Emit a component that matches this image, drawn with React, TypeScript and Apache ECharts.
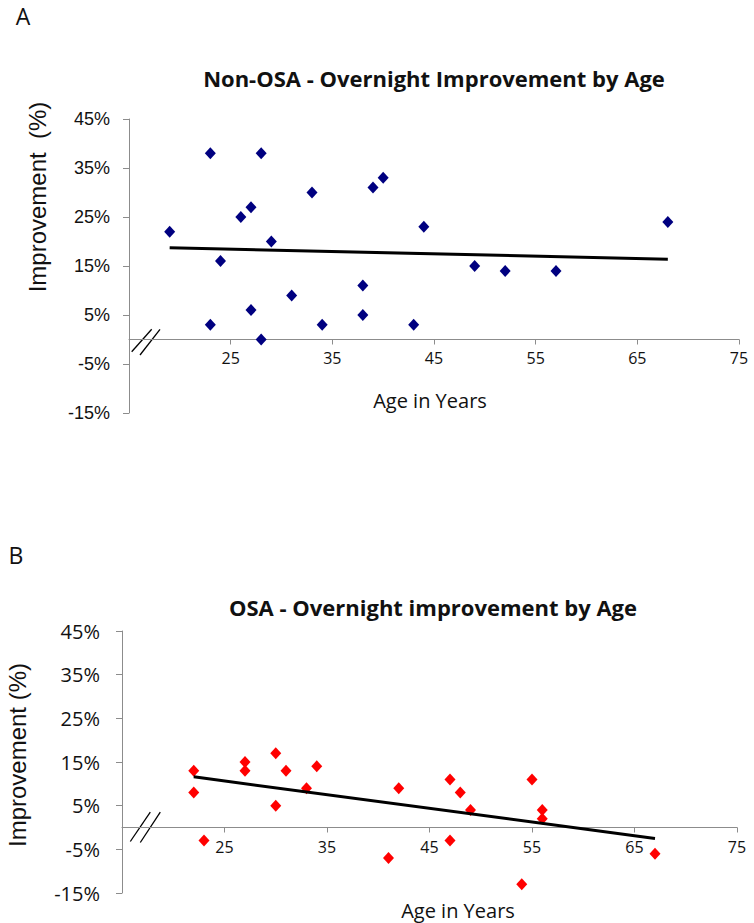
import React, { useEffect, useRef } from "react";
import * as echarts from "echarts";

// Panel A: Non-OSA
const topAge = [19, 23, 28, 24, 26, 27, 29, 33, 39, 40, 44, 68, 49, 52, 57, 23, 27, 28, 31, 34, 38, 38, 43];
const topImp = [22, 38, 38, 16, 25, 27, 20, 30, 31, 33, 23, 24, 15, 14, 14, 3, 6, 0, 9, 3, 11, 5, 3];
const topTrendAge = [19, 68];
const topTrendImp = [18.7, 16.4];

// Panel B: OSA
const botAge = [22, 22, 23, 27, 27, 30, 30, 31, 33, 34, 42, 41, 47, 47, 48, 49, 55, 56, 56, 54, 67];
const botImp = [13, 8, -3, 15, 13, 17, 5, 13, 9, 14, 9, -7, 11, -3, 8, 4, 11, 4, 2, -13, -6];
const botTrendAge = [22, 67];
const botTrendImp = [11.6, -2.5];

const xMin = 15;
const xMax = 75;
const xStep = 10;
const yMin = -15;
const yMax = 45;
const yStep = 10;

const panelLetters = ["A", "B"];
const titles = ["Non-OSA - Overnight Improvement by Age", "OSA - Overnight improvement by Age"];
const yNames = ["Improvement  (%)", "Improvement (%)"];
const xName = "Age in Years";

const AXIS = "#8c8c8c";
const TXT = "#111111";

function pairs(xs: number[], ys: number[]) {
  return xs.map((x, i) => [x, ys[i]]);
}

const grids = [
  { left: 129, top: 119, width: 610, height: 294 },
  { left: 122, top: 631, width: 615, height: 262 },
];

// distance (px) from the grid bottom up to the y = 0 line
function zeroOffset(h: number) {
  return (h * (0 - yMin)) / (yMax - yMin);
}

export default function App() {
  const ref = useRef<HTMLDivElement>(null);
  useEffect(() => {
    if (!ref.current) return;
    const chart = echarts.init(ref.current, null, { renderer: "svg" });
    const xAxisOf = (gi: number, font: string, size: number, margin: number) => ({
      type: "value",
      gridIndex: gi,
      min: xMin,
      max: xMax,
      interval: xStep,
      position: "bottom",
      offset: -zeroOffset(grids[gi].height),
      axisLine: { show: true, onZero: false, lineStyle: { color: AXIS, width: 1 } },
      axisTick: { show: true, length: 5, lineStyle: { color: AXIS } },
      splitLine: { show: false },
      axisLabel: {
        formatter: (v: number) => (v === xMin ? "" : String(v)),
        fontFamily: font,
        fontSize: size,
        color: TXT,
        margin,
      },
    });
    const yAxisOf = (gi: number, font: string, size: number, margin: number) => ({
      type: "value",
      gridIndex: gi,
      min: yMin,
      max: yMax,
      interval: yStep,
      axisLine: { show: true, lineStyle: { color: AXIS, width: 1 } },
      axisTick: { show: true, length: 6, lineStyle: { color: AXIS } },
      splitLine: { show: false },
      axisLabel: {
        formatter: (v: number) => v + "%",
        fontFamily: font,
        fontSize: size,
        color: TXT,
        margin,
      },
    });

    chart.setOption({
      animation: false,
      backgroundColor: "#ffffff",
      grid: grids,
      xAxis: [
        xAxisOf(0, "Open Sans", 16, 10),
        xAxisOf(1, "Open Sans", 16, 11),
      ],
      yAxis: [
        yAxisOf(0, "Liberation Sans", 18, 19),
        yAxisOf(1, "Open Sans", 20, 22),
      ],
      series: [
        {
          type: "scatter",
          xAxisIndex: 0,
          yAxisIndex: 0,
          symbol: "diamond",
          symbolSize: [11, 12],
          itemStyle: { color: "#000080", opacity: 1 },
          data: pairs(topAge, topImp),
        },
        {
          type: "line",
          xAxisIndex: 0,
          yAxisIndex: 0,
          showSymbol: false,
          lineStyle: { color: "#000000", width: 3 },
          data: pairs(topTrendAge, topTrendImp),
        },
        {
          type: "scatter",
          xAxisIndex: 1,
          yAxisIndex: 1,
          symbol: "diamond",
          symbolSize: [11, 12],
          itemStyle: { color: "#ff0000", opacity: 1 },
          data: pairs(botAge, botImp),
        },
        {
          type: "line",
          xAxisIndex: 1,
          yAxisIndex: 1,
          showSymbol: false,
          lineStyle: { color: "#000000", width: 3 },
          data: pairs(botTrendAge, botTrendImp),
        },
      ],
    });

    const o1 = chart.convertToPixel({ gridIndex: 0 }, [xMin, 0]) as number[];
    const o2 = chart.convertToPixel({ gridIndex: 1 }, [xMin, 0]) as number[];
    const brk = (o: number[], a: number[], b: number[]) => [
      {
        type: "line",
        shape: { x1: o[0] + a[0], y1: o[1] + a[1], x2: o[0] + a[2], y2: o[1] + a[3] },
        style: { stroke: "#000", lineWidth: 1.3 },
      },
      {
        type: "line",
        shape: { x1: o[0] + b[0], y1: o[1] + b[1], x2: o[0] + b[2], y2: o[1] + b[3] },
        style: { stroke: "#000", lineWidth: 1.3 },
      },
    ];
    const txt = (text: string, x: number, y: number, font: string, extra: any = {}) => ({
      type: "text",
      x,
      y,
      ...extra,
      style: {
        text,
        font,
        fill: TXT,
        textAlign: "center",
        textVerticalAlign: "middle",
      },
    });

    chart.setOption({
      graphic: [
        txt(panelLetters[0], 23, 16, "23px 'Open Sans'"),
        txt(panelLetters[1], 16, 555, "23px 'Open Sans'"),
        txt(titles[0], 434, 78, "bold 22px 'Open Sans'"),
        txt(titles[1], 433, 607, "bold 22px 'Open Sans'"),
        txt(yNames[0], 37, 197, "24px 'Liberation Sans'", { rotation: Math.PI / 2 }),
        txt(yNames[1], 17, 755, "24px 'Liberation Sans'", { rotation: Math.PI / 2 }),
        txt(xName, 430, 400, "20px 'Open Sans'"),
        txt(xName, 458, 910, "20px 'Open Sans'"),
        ...brk(o1, [2.7, 12.2, 22.7, -10.2], [11, 15.5, 31, -10.2]),
        ...brk(o2, [8.3, 14, 28.3, -15.4], [18.3, 15, 38.3, -15.4]),
      ],
    });

    return () => chart.dispose();
  }, []);
  return (
    <div
      ref={ref}
      style={{ position: "absolute", left: 0, top: 0, width: 754, height: 923, background: "#fff" }}
    />
  );
}
